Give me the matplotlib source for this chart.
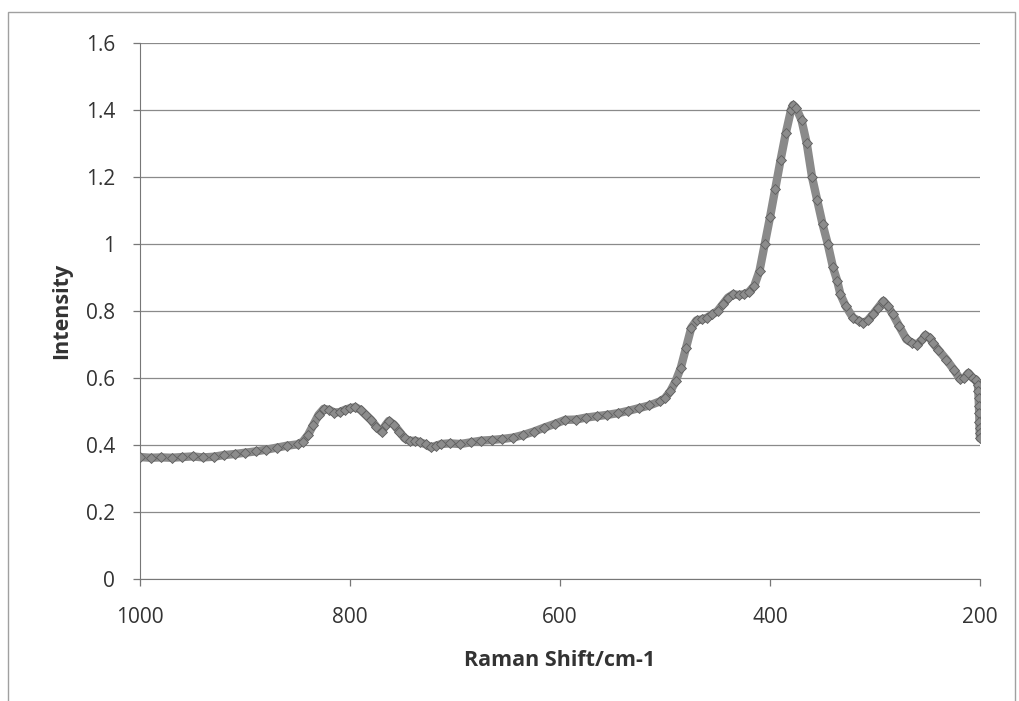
import numpy as np
import matplotlib.pyplot as plt
from matplotlib.patches import Rectangle

plt.rcParams['font.family'] = ['Open Sans', 'DejaVu Sans']

# Raman spectrum, shift (cm-1) and intensity
shift = [1000, 990, 980, 970, 960, 950, 940, 930, 920, 910, 900, 890, 880,
         870, 860, 850, 845, 840, 835, 830, 825, 820, 815, 810, 805, 800,
         795, 790, 785, 780, 775, 770, 766, 763, 758, 753, 748, 743, 738,
         733, 728, 723, 718, 713, 705, 695, 685, 675, 665, 655, 645, 635,
         625, 615, 605, 595, 585, 575, 565, 555, 545, 535, 525, 515, 505,
         500, 495, 490, 485, 480, 475, 470, 465, 460, 455, 450, 445, 440,
         435, 430, 425, 420, 415, 410, 405, 400, 395, 390, 385, 380, 378,
         375, 370, 365, 360, 355, 350, 345, 340, 336, 333, 328, 321, 315,
         311, 307, 302, 297, 292, 288, 283, 277, 270, 265, 260, 255, 252,
         248, 245, 240, 232, 225, 219, 215, 211, 207, 204, 202, 201.6, 201.3,
         201.0, 200.8, 200.6, 200.4, 200.2, 200]
intensity = [0.364, 0.362, 0.363, 0.362, 0.364, 0.366, 0.363, 0.365, 0.370,
             0.373, 0.377, 0.381, 0.386, 0.392, 0.398, 0.402, 0.410, 0.430,
             0.460, 0.490, 0.508, 0.505, 0.497, 0.498, 0.505, 0.510, 0.513,
             0.505, 0.490, 0.475, 0.455, 0.440, 0.460, 0.472, 0.460, 0.440,
             0.420, 0.412, 0.413, 0.408, 0.402, 0.393, 0.398, 0.403, 0.405,
             0.403, 0.408, 0.413, 0.415, 0.418, 0.422, 0.430, 0.440, 0.452,
             0.463, 0.475, 0.476, 0.482, 0.486, 0.490, 0.495, 0.502, 0.510,
             0.518, 0.530, 0.540, 0.560, 0.590, 0.630, 0.690, 0.750, 0.772,
             0.775, 0.780, 0.790, 0.800, 0.820, 0.840, 0.850, 0.848, 0.850,
             0.857, 0.875, 0.920, 1.000, 1.080, 1.165, 1.250, 1.330, 1.400,
             1.415, 1.405, 1.370, 1.300, 1.200, 1.130, 1.060, 1.000, 0.930,
             0.890, 0.850, 0.815, 0.780, 0.770, 0.765, 0.772, 0.790, 0.810,
             0.830, 0.815, 0.790, 0.755, 0.715, 0.705, 0.700, 0.715, 0.728,
             0.720, 0.705, 0.685, 0.655, 0.625, 0.597, 0.600, 0.615, 0.600,
             0.595, 0.580, 0.560, 0.540, 0.515, 0.495, 0.470, 0.450, 0.435,
             0.420]

fig = plt.figure(figsize=(10.2, 7.01), dpi=100)
ax = fig.add_axes([0.1373, 0.174, 0.8235, 0.7647])

# outer chart frame
fig.patches.append(Rectangle((8 / 1020, -0.01), 1007 / 1020, 1 - 12 / 701 + 0.01,
                             transform=fig.transFigure, fill=False,
                             edgecolor='#a0a0a0', lw=1.0))

ax.plot(shift, intensity, color='#8a8a8a', lw=6, solid_capstyle='round', zorder=3)
ax.plot(shift, intensity, ls='none', marker='D', ms=5, mfc='#8c8c8c',
        mec='#5e5e5e', mew=0.6, zorder=4)

ax.set_xlim(1000, 200)
ax.set_ylim(0, 1.6)
ax.set_xticks([1000, 800, 600, 400, 200])
ax.set_yticks(np.arange(0, 1.61, 0.2))
ax.set_yticklabels(['0', '0.2', '0.4', '0.6', '0.8', '1', '1.2', '1.4', '1.6'])

ax.yaxis.grid(True, color='#8a8a8a', lw=0.9)
ax.set_axisbelow(True)
for side in ['top', 'right']:
    ax.spines[side].set_visible(False)
ax.spines['left'].set_color('#777777')
ax.spines['bottom'].set_color('#777777')
ax.tick_params(axis='both', colors='#777777', labelcolor='#333333',
               labelsize=15, length=5, width=0.9)
ax.tick_params(axis='x', pad=15)
ax.tick_params(axis='y', pad=13)

ax.set_xlabel('Raman Shift/cm-1', fontsize=15.5, fontweight='bold',
              color='#333333', labelpad=16)
ax.set_ylabel('Intensity', fontsize=15.5, fontweight='bold',
              color='#333333', labelpad=10)

fig.savefig('out.png', dpi=100, facecolor='white')
